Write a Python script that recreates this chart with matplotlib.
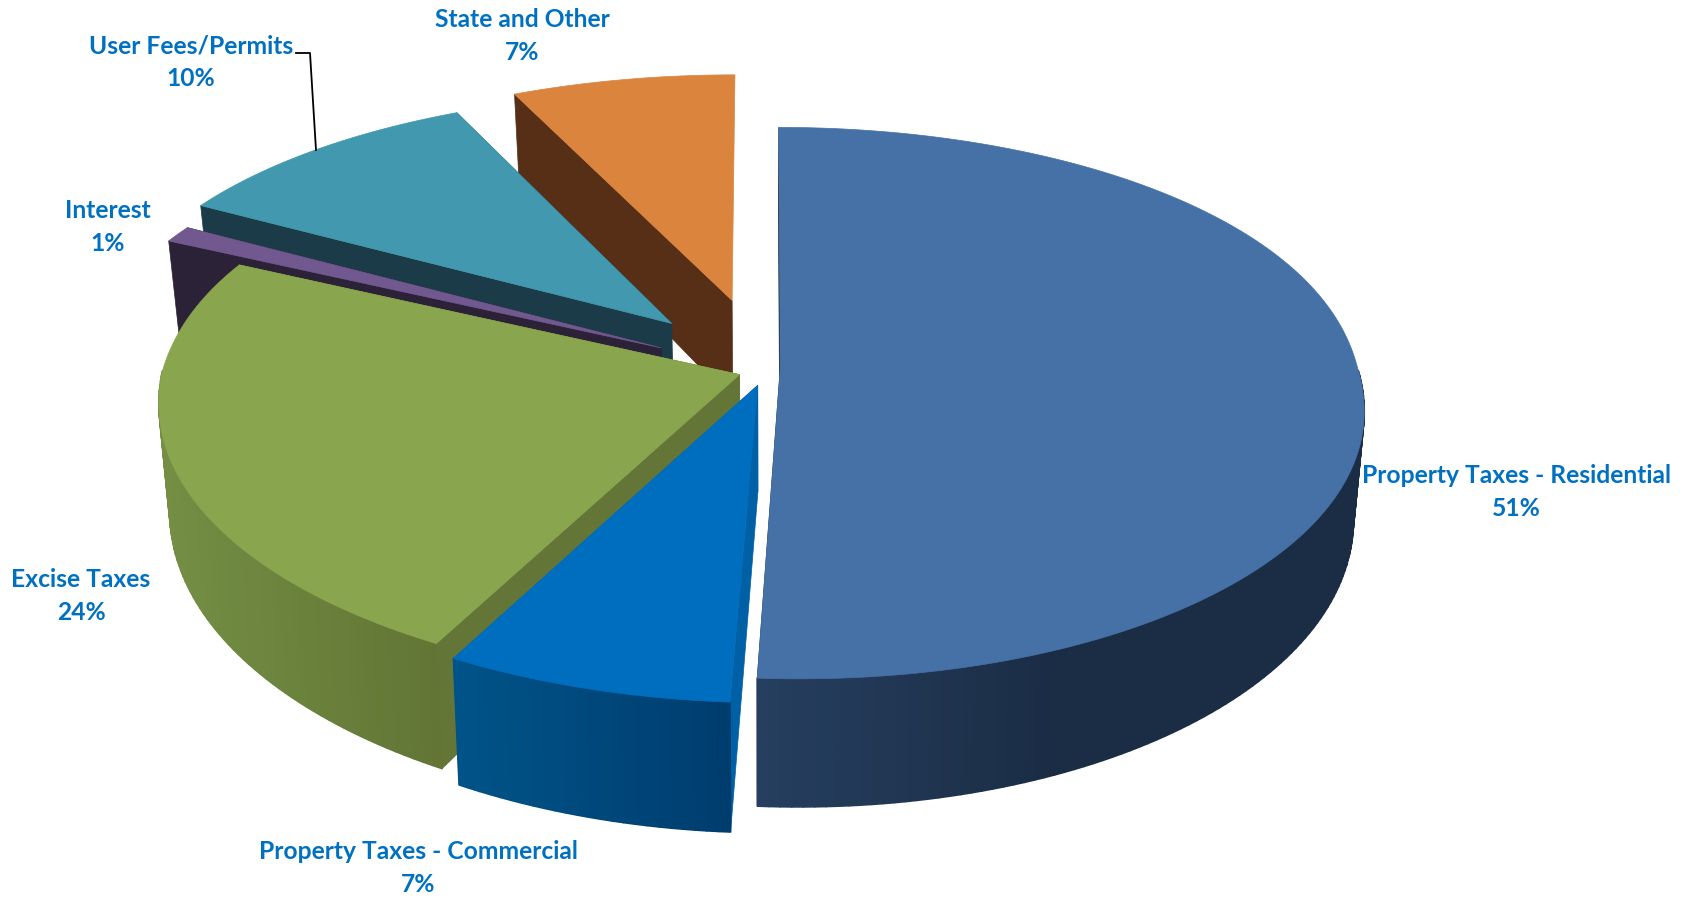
import numpy as np
import matplotlib
matplotlib.use("Agg")
import matplotlib.pyplot as plt
from matplotlib.colors import to_rgb
from matplotlib.collections import PolyCollection

# revenue sources, clockwise from twelve o'clock
labels = ["Property Taxes - Residential", "Property Taxes - Commercial", "Excise Taxes",
          "Interest", "User Fees/Permits", "State and Other"]
values = [51, 7, 24, 1, 10, 7]

explode = [0.03, 0.07, 0.043, 0.19, 0.225, 0.26]
nudge_x = [0, 5, 0, -5, -4, 1]
nudge_y = [0, 0, 4, 4, 0, 0]
top_colors = ["#4571A7", "#006EBF", "#89A54E", "#71588F", "#4198AF", "#DB843D"]
side_colors = ["#1B2D45", "#0060A5", "#647637", "#2C2238", "#1A3B47", "#572F17"]
wall_left = ["#263F60", "#005489", "#748F44", "#2C2238", "#1A3B47", "#572F17"]
wall_right = ["#1B2D45", "#003D6F", "#627535", "#2C2238", "#1A3B47", "#572F17"]

# back to front
draw_order = [5, 4, 3, 2, 1, 0]
label_pos = [(1516, 492), (418, 868), (81, 596), (108, 227), (191, 62), (522, 36)]

CX, CY = 763, 367
RX, RY = 577, 271
PERSP = 0.13
PERSP_BACK_X = 0.1
FRONT_SHIFT = 16
DEPTH = 105
DEPTH_PERSP = 0.18
TEXT_BLUE = "#0070C0"


def project(x, y):
    w = 1 + PERSP * y
    # horizontal scale eases from the front rate to the back rate
    mean_k = (PERSP + PERSP_BACK_X) / 2
    half_k = (PERSP - PERSP_BACK_X) / 2
    wx = 1 + mean_k * y - half_k * y * np.tanh(y / 0.3)
    return CX + RX * x / wx + FRONT_SHIFT * np.maximum(-y, 0), CY - RY * y / w


def drop(x, y):
    # screen point of the underside of the pie below (x, y)
    sx, sy = project(x, y)
    d = DEPTH / (1 + DEPTH_PERSP * y)
    return sx + 0.018 * (CX - sx), sy + d


def slice_rim(t0, t1, ox, oy):
    t = np.radians(np.linspace(t0, t1, max(int(t1 - t0), 8)))
    return ox + np.sin(t), oy + np.cos(t), t


fig = plt.figure(figsize=(16.91, 9.01), dpi=100)
ax = fig.add_axes([0, 0, 1, 1])
ax.set_xlim(0, 1691)
ax.set_ylim(901, 0)
ax.axis("off")

edges = np.cumsum([0] + values) * 3.6

for i in draw_order:
    t0, t1 = edges[i], edges[i + 1]
    mid = np.radians((t0 + t1) / 2)
    ox, oy = explode[i] * np.sin(mid), explode[i] * np.cos(mid)
    rx, ry, t = slice_rim(t0, t1, ox, oy)
    dx, dy = nudge_x[i], nudge_y[i]

    # cut faces; the one closing at twelve o'clock faces away
    for j in (0, -1):
        if t1 == 360 and j == -1:
            continue
        p = np.array([project(ox, oy), project(rx[j], ry[j]), drop(rx[j], ry[j]), drop(ox, oy)])
        ax.fill(p[:, 0] + dx, p[:, 1] + dy, color=side_colors[i], lw=0.5, zorder=1)

    # outer wall, shaded strip by strip; only the part turned towards the viewer
    tx, ty = project(rx, ry)
    bx, by = drop(rx, ry)
    tx, ty, bx, by = tx + dx, ty + dy, bx + dx, by + dy
    strips = []
    shades = []
    c0, c1 = np.array(to_rgb(wall_left[i])), np.array(to_rgb(wall_right[i]))
    span = max(tx) - min(tx)
    for n in range(len(rx) - 1):
        if np.cos(t[n]) > 0:
            continue
        strips.append([(tx[n], ty[n]), (tx[n + 1], ty[n + 1]), (bx[n + 1], by[n + 1]), (bx[n], by[n])])
        if i == 0:
            f = np.clip((tx[n] - min(tx)) / 300, 0, 1)
        else:
            f = (tx[n] - min(tx)) / span
        shades.append(c0 * (1 - f) + c1 * f)
    ax.add_collection(PolyCollection(strips, facecolors=shades, edgecolors=shades, linewidths=1.2, zorder=1))

    # top surface
    ax0, ay0 = project(ox, oy)
    ax.fill(np.r_[ax0 + dx, tx], np.r_[ay0 + dy, ty], color=top_colors[i], lw=0.5, zorder=1)

for name, val, (x, y) in zip(labels, values, label_pos):
    ax.text(x, y, f"{name}\n{val}%", color=TEXT_BLUE, fontsize=17.7, fontfamily="Lato", fontweight="bold",
            ha="center", va="center", linespacing=1.5, zorder=3)

# leader for the user fees label
ax.plot([296, 310, 316], [53, 53, 150], color="black", lw=1.3, zorder=2)

fig.savefig("out.png", dpi=100)
